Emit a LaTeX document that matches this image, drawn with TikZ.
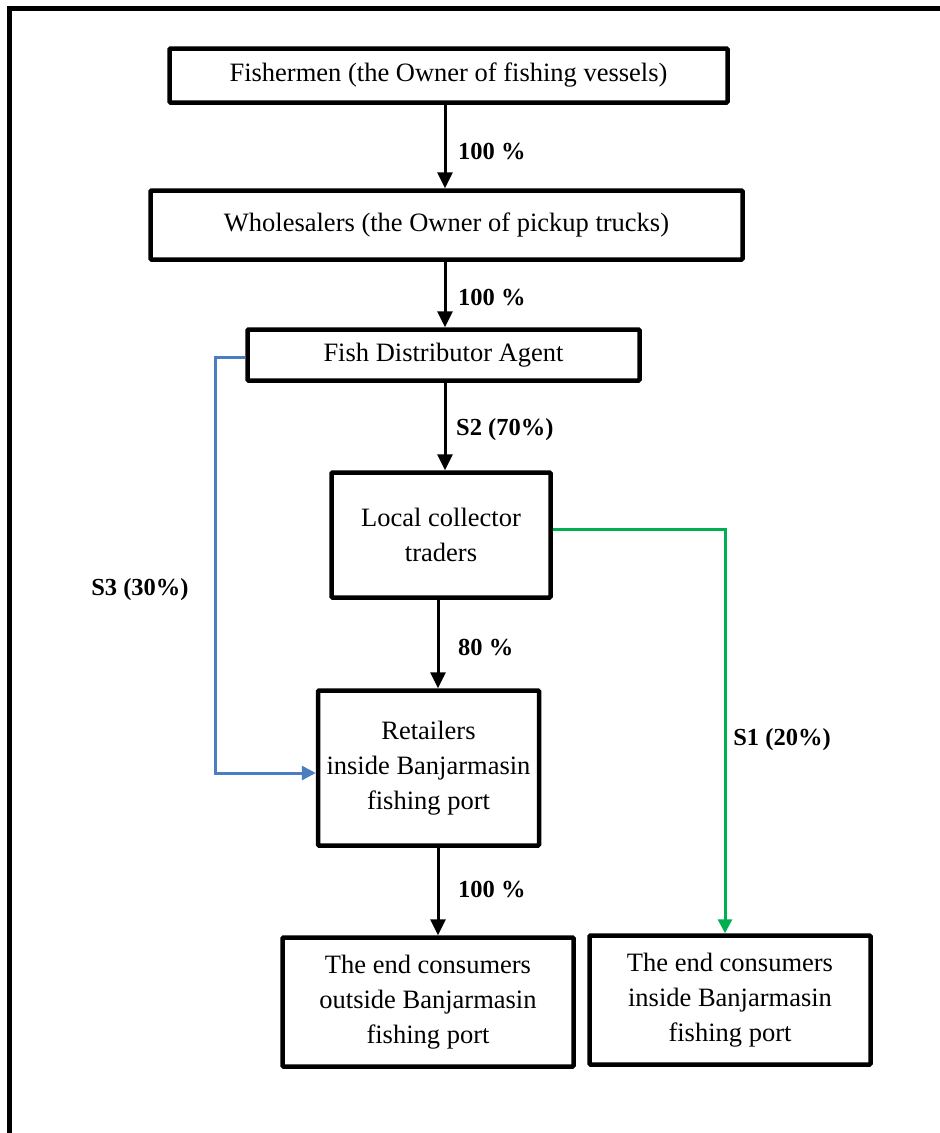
\documentclass[tikz,border=0pt]{standalone}
\usepackage{fontspec}
\setmainfont{Liberation Serif}
\usetikzlibrary{arrows.meta,calc}
\definecolor{sblue}{RGB}{74,126,193}
\definecolor{sgreen}{RGB}{0,176,80}
\begin{document}
\begin{tikzpicture}[x=1pt,y=-1pt,
  box/.style={draw=black,line width=4.5pt,rounded corners=1pt,inner sep=0pt,align=center,
    font=\fontsize{26.5}{35}\selectfont},
  flow/.style={line width=3pt,-{Triangle[length=16pt,width=15pt]}},
  lab/.style={font=\fontsize{24.5}{28}\selectfont\bfseries,inner sep=0pt},
  blueflow/.style={draw=sblue,line width=3pt,-{Triangle[length=14pt,width=14pt]}},
  greenflow/.style={draw=sgreen,line width=3pt,-{Triangle[length=14pt,width=14pt]}}]
\useasboundingbox (0,0) rectangle (940,1133);
\fill[white] (0,0) rectangle (940,1133);
\draw[line width=4.5pt] (9.5,1140) -- (9.5,8.5) -- (950,8.5);

\node[box,minimum width=558pt,minimum height=54pt] (fish) at (448.5,75.5) {Fishermen (the Owner of fishing vessels)};
\node[box,minimum width=592pt,minimum height=69pt] (whole) at (446.5,225) {Wholesalers (the Owner of pickup trucks)};
\node[box,minimum width=392pt,minimum height=51pt] (agent) at (443.5,355) {Fish Distributor Agent};
\node[box,minimum width=219pt,minimum height=125pt] (local) at (441,535) {Local collector\\traders};
\node[box,minimum width=221pt,minimum height=155pt] (retail) at (428.5,768) {Retailers\\inside Banjarmasin\\fishing port};
\node[box,minimum width=291pt,minimum height=129pt] (out) at (428,1002) {The end consumers\\outside Banjarmasin\\fishing port};
\node[box,minimum width=281pt,minimum height=129pt] (in) at (730,1000) {The end consumers\\inside Banjarmasin\\fishing port};

\coordinate (a1) at (445,0);
\coordinate (a2) at (438,0);
\draw[flow] (fish.south -| a1) -- (whole.north -| a1);
\draw[flow] (whole.south -| a1) -- (agent.north -| a1);
\draw[flow] (agent.south -| a1) -- (local.north -| a1);
\draw[flow] (local.south -| a2) -- (retail.north -| a2);
\draw[flow] (retail.south -| a2) -- (out.north -| a2);

\node[lab,anchor=west] (l1) at (458,152) {100 \%};
\node[lab,anchor=west] (l2) at (458,298) {100 \%};
\node[lab,anchor=west] (l3) at (456,430) {S2 (70\%)};
\node[lab,anchor=west] (l4) at (458,648) {80 \%};
\node[lab,anchor=west] (l5) at (458,890) {100 \%};

\coordinate (bx) at (215,0);
\coordinate (by) at (0,773);
\draw[blueflow] ([yshift=-2pt]agent.west) -| (bx |- by) -- (retail.west |- by);
\node[lab] (s3) at (140,590) {S3 (30\%)};

\coordinate (gx) at (725,0);
\coordinate (gy) at (0,529);
\draw[greenflow] (local.east |- gy) -| (in.north -| gx);
\node[lab] (s1) at (782,740) {S1 (20\%)};
\end{tikzpicture}
\end{document}
